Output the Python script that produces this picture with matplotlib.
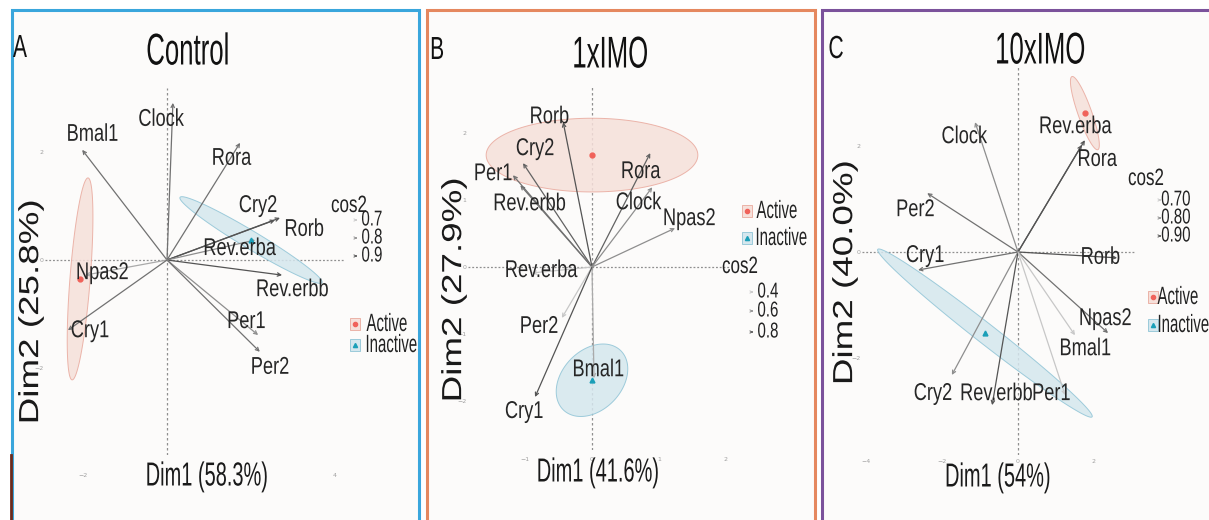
import numpy as np
import matplotlib.pyplot as plt
from matplotlib.patches import Rectangle, FancyArrowPatch
from matplotlib.lines import Line2D
from matplotlib import patheffects as pe
from matplotlib.transforms import Affine2D

W, H = 1209, 520
FONT = ['Liberation Sans', 'DejaVu Sans']

# ---- data ----
genes_a = ['Clock', 'Bmal1', 'Rora', 'Cry2', 'Rorb', 'Rev.erba', 'Rev.erbb', 'Per1', 'Per2', 'Npas2', 'Cry1']
dim1_a = [0.14, -2.02, 1.74, 2.57, 2.69, 2.10, 2.74, 2.17, 2.21, -1.95, -2.36]
dim2_a = [2.91, 2.04, 2.17, 0.74, 0.78, 0.37, -0.28, -1.39, -1.70, -0.28, -1.30]
cos2_a = [0.85, 0.85, 0.85, 0.9, 0.9, 0.8, 0.9, 0.8, 0.85, 0.75, 0.85]

genes_b = ['Rorb', 'Cry2', 'Per1', 'Rev.erbb', 'Rora', 'Clock', 'Npas2', 'Rev.erba', 'Per2', 'Bmal1', 'Cry1']
dim1_b = [-0.43, -1.03, -1.18, -1.07, 0.87, 0.90, 1.24, -0.90, -0.45, 0.03, -0.85]
dim2_b = [2.16, 1.55, 1.37, 1.22, 1.70, 1.19, 0.58, -0.09, -0.76, -1.66, -1.94]
cos2_b = [0.8, 0.75, 0.7, 0.7, 0.75, 0.6, 0.6, 0.4, 0.4, 0.5, 0.8]

genes_c = ['Clock', 'Rev.erba', 'Rora', 'Per2', 'Cry1', 'Rorb', 'Npas2', 'Bmal1', 'Cry2', 'Rev.erbb', 'Per1']
dim1_c = [-1.13, 1.76, 1.68, -2.39, -2.63, 2.61, 2.37, 1.50, -1.74, -0.68, 1.24]
dim2_c = [2.45, 2.11, 2.02, 1.11, -0.34, -0.11, -1.53, -1.57, -2.32, -2.89, -2.70]
cos2_c = [0.8, 0.9, 0.9, 0.85, 0.85, 0.9, 0.85, 0.7, 0.8, 0.9, 0.7]

# group ellipses: centre, major half-axis, minor half-axis (data units)
groups = ['Active', 'Inactive']
ell_center_a = [(-2.07, -0.35), (2.0, 0.37)]
ell_major_a = [(0.19, 1.87), (1.69, -0.79)]
ell_minor_a = [(0.24, -0.02), (0.11, 0.14)]
ell_center_b = [(0.0, 1.67), (0.0, -1.69)]
ell_major_b = [(1.58, 0.0), (0.42, 0.45)]
ell_minor_b = [(0.0, 0.55), (0.33, -0.30)]
ell_center_c = [(1.76, 2.62), (-0.87, -1.53)]
ell_major_c = [(-0.34, 0.69), (2.82, -1.58)]
ell_minor_c = [(0.17, 0.045), (0.16, 0.15)]

titles = ['Control', '1xIMO', '10xIMO']
letters = ['A', 'B', 'C']
xlabels = ['Dim1 (58.3%)', 'Dim1 (41.6%)', 'Dim1 (54%)']
ylabels = ['Dim2 (25.8%)', 'Dim2 (27.9%)', 'Dim2 (40.0%)']
cos2_levels = [['0.7', '0.8', '0.9'], ['0.4', '0.6', '0.8'], ['0.70', '0.80', '0.90']]

# ---- layout (pixels) ----
label_off_a = [(-12, -17), (10, 15), (-9, -16), (-17, 14), (24, -12), (-16, -9),
               (10, -15), (-12, 13), (10, -16), (17, 2), (22, -1)]
label_off_b = [(-14, 5), (12, 14), (-20, 1), (9, -19), (-10, -19), (-14, -16),
               (14, 9), (9, 2), (-23, -9), (4, 8), (-11, -15)]
label_off_c = [(-11, -15), (-10, 13), (15, -15), (-12, -17), (7, 14), (-17, 0),
               (-3, 14), (10, -14), (-19, -19), (4, 11), (-14, 1)]

panels = [
    dict(border=(12, 10, 419, 530), bcol='#3aa6dc', axbox=(45, 88, 345, 455),
         xlim=(-2.905, 4.238), ylim=(-3.611, 3.185), xt=[-2, 0, 2, 4], yt=[-2, 0, 2], xpad=13,
         xl_box=True,
         genes=genes_a, d1=dim1_a, d2=dim2_a, cos2=cos2_a, off=label_off_a,
         ec=ell_center_a, emaj=ell_major_a, emin=ell_minor_a,
         title_xy=(188, 53), letter_xy=(20, 49), xl_xy=(207, 477), yl_xy=(31, 312),
         cos2_xy=(349, 206), lev_x=372, lev_y=[220, 238, 256], leg_x=355, leg_y=[324, 345],
         leg_tx=[387, 391]),
    dict(border=(427, 10, 815, 530), bcol='#e5885f', axbox=(468, 85, 730, 450),
         xlim=(-1.851, 2.060), ylim=(-2.731, 2.716), xt=[-1, 0, 1, 2], yt=[-2, -1, 0, 1, 2], xpad=5,
         xl_box=False,
         genes=genes_b, d1=dim1_b, d2=dim2_b, cos2=cos2_b, off=label_off_b,
         ec=ell_center_b, emaj=ell_major_b, emin=ell_minor_b,
         title_xy=(610, 56), letter_xy=(437, 51), xl_xy=(598, 473), yl_xy=(454, 290),
         cos2_xy=(740, 267), lev_x=768, lev_y=[292, 311, 332], leg_x=747, leg_y=[211, 238],
         leg_tx=[777, 781]),
    dict(border=(822, 10, 1215, 530), bcol='#7b529b', axbox=(862, 65, 1135, 455),
         xlim=(-4.105, 3.079), ylim=(-3.830, 3.528), xt=[-4, -2, 0, 2], yt=[-2, 0, 2], xpad=3,
         xl_box=False,
         genes=genes_c, d1=dim1_c, d2=dim2_c, cos2=cos2_c, off=label_off_c,
         ec=ell_center_c, emaj=ell_major_c, emin=ell_minor_c,
         title_xy=(1040, 52), letter_xy=(836, 50), xl_xy=(998, 478), yl_xy=(845, 273),
         cos2_xy=(1146, 179), lev_x=1176, lev_y=[200, 218, 236], leg_x=1153, leg_y=[297, 325],
         leg_tx=[1178, 1183]),
]

ACT_FILL, ACT_EDGE, ACT_PT = '#f6e0da', '#e9a99d', '#f0625a'
INA_FILL, INA_EDGE, INA_PT = '#d5e7ee', '#8fc4d6', '#1a9fb8'


class Squeeze(pe.AbstractPathEffect):
    """the source figure is squashed sideways; squeeze glyphs about their centre"""

    def __init__(self, sx):
        super().__init__()
        self.sx = sx

    def draw_path(self, renderer, gc, tpath, affine, rgbFace=None):
        ext = tpath.get_extents(affine)
        cx = 0.5 * (ext.x0 + ext.x1)
        sq = Affine2D().translate(-cx, 0).scale(self.sx, 1).translate(cx, 0)
        renderer.draw_path(gc, tpath, affine + sq, rgbFace)


def fx(x):
    return x / W


def fy(y):
    return 1 - y / H


def grey(c, lo, hi):
    t = np.clip((c - lo) / (hi - lo), 0, 1)
    g = 0.78 - 0.45 * t
    return (g, g, g)


def ftext(x, y, s, size, sx, **kw):
    return fig.text(fx(x), fy(y), s, ha='center', va='center', fontsize=size, family=FONT,
                    path_effects=[Squeeze(sx)], **kw)


fig = plt.figure(figsize=(W / 100, H / 100), dpi=100)
fig.patch.set_facecolor('white')

for k, p in enumerate(panels):
    x0, y0, x1, y1 = p['border']
    fig.add_artist(Rectangle((fx(x0), fy(y1)), fx(x1 - x0), (y1 - y0) / H, transform=fig.transFigure,
                             facecolor='#fcfbfa', edgecolor=p['bcol'], lw=2.2, zorder=0))

    l, t, r, b = p['axbox']
    ax = fig.add_axes([fx(l), fy(b), fx(r - l), (b - t) / H])
    ax.set_facecolor('none')
    for s in ax.spines.values():
        s.set_visible(False)
    ax.set_xlim(p['xlim'])
    ax.set_ylim(p['ylim'])
    ax.set_xticks(p['xt'])
    ax.set_yticks(p['yt'])
    ax.tick_params(length=0, labelsize=4.5, labelcolor='#a0a0a0')
    ax.tick_params(axis='x', pad=p['xpad'])
    ax.tick_params(axis='y', pad=1)
    ax.axhline(0, color='#8f8f8f', lw=0.9, ls=(0, (1.5, 1.5)), zorder=1)
    ax.axvline(0, color='#8f8f8f', lw=0.9, ls=(0, (2, 2)), zorder=1)

    # group ellipses + mean points
    th = np.linspace(0, 2 * np.pi, 200)
    for i, (fc, ecol, pc, mk) in enumerate(zip([ACT_FILL, INA_FILL], [ACT_EDGE, INA_EDGE],
                                                [ACT_PT, INA_PT], ['o', '^'])):
        c = np.array(p['ec'][i])
        u = np.array(p['emaj'][i])
        v = np.array(p['emin'][i])
        pts = c + np.outer(np.cos(th), u) + np.outer(np.sin(th), v)
        ax.fill(pts[:, 0], pts[:, 1], facecolor=fc, edgecolor=ecol, lw=0.7, alpha=0.85, zorder=2)
        ax.plot(c[0], c[1], marker=mk, color=pc, ms=3.5, ls='none', zorder=5)

    levels = [float(s) for s in cos2_levels[k]]
    lo, hi = min(levels), max(levels)
    for name, x, y, c2, off in zip(p['genes'], p['d1'], p['d2'], p['cos2'], p['off']):
        ax.annotate('', xy=(x, y), xytext=(0, 0),
                    arrowprops=dict(arrowstyle='->', color=grey(c2, lo, hi), lw=0.9, mutation_scale=6,
                                    shrinkA=0, shrinkB=0), zorder=3)
        ax.annotate(name, xy=(x, y), xytext=off, textcoords='offset pixels',
                    ha='center', va='center', fontsize=17.5, family=FONT, color='#262626', zorder=6,
                    path_effects=[Squeeze(0.75)])

    # panel texts
    box = dict(facecolor='#fcfbfa', edgecolor='none', pad=0.3) if p['xl_box'] else None
    ftext(p['xl_xy'][0], p['xl_xy'][1], xlabels[k], 24, 0.6, color='#1a1a1a', bbox=box)
    ftext(p['yl_xy'][0], p['yl_xy'][1], ylabels[k], 26.5, 0.75, rotation=90, color='#1a1a1a')
    ftext(p['title_xy'][0], p['title_xy'][1], titles[k], 32, 0.58, color='#111111')
    ftext(p['letter_xy'][0], p['letter_xy'][1], letters[k], 23, 0.66, color='#111111')

    # cos2 legend
    cx, cy = p['cos2_xy']
    ftext(cx, cy, 'cos2', 17, 0.72, color='#222222')
    for lab, ly, lv in zip(cos2_levels[k], p['lev_y'], levels):
        ftext(p['lev_x'], ly, lab, 15.5, 0.7, color='#222222')
        ax_x = p['lev_x'] - 15
        fig.add_artist(FancyArrowPatch((fx(ax_x - 4), fy(ly)), (fx(ax_x + 3), fy(ly)),
                                       transform=fig.transFigure, arrowstyle='->', mutation_scale=4,
                                       color=grey(lv, lo, hi), lw=0.7))

    # group legend
    lx = p['leg_x']
    for g, ly, tx, fc, ecol, pc, mk in zip(groups, p['leg_y'], p['leg_tx'], [ACT_FILL, INA_FILL],
                                           [ACT_EDGE, INA_EDGE], [ACT_PT, INA_PT], ['o', '^']):
        fig.add_artist(Rectangle((fx(lx - 5), fy(ly + 6)), fx(10), 12 / H, transform=fig.transFigure,
                                 facecolor=fc, edgecolor=ecol, lw=0.6))
        fig.add_artist(Line2D([fx(lx)], [fy(ly)], transform=fig.transFigure, marker=mk, color=pc,
                              ms=3, ls='none'))
        ftext(tx, ly, g, 18, 0.6, color='#222222')

# small dark mark at the bottom-left edge of the source image
fig.add_artist(Line2D([fx(11), fx(11)], [fy(455), fy(520)], transform=fig.transFigure,
                      color='#6b2a1c', lw=2))

fig.savefig('out.png', dpi=100, facecolor='white')
